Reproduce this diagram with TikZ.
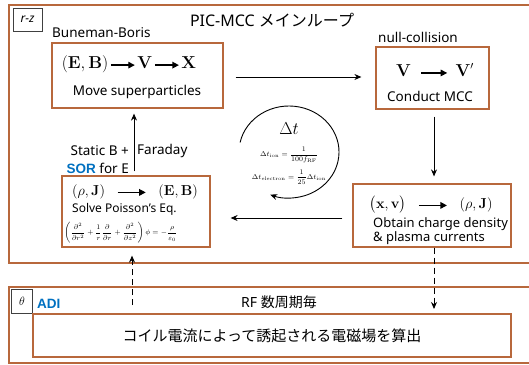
\documentclass[tikz,border=0pt]{standalone}
\usepackage{amsmath,bm}
\usepackage[no-math]{fontspec}
\setmainfont{Noto Sans}
\newfontfamily\jp{Noto Sans CJK JP}
\newfontfamily\bsans{Liberation Sans}
\usetikzlibrary{arrows.meta}
\definecolor{brn}{RGB}{184,104,60}
\definecolor{sorblue}{RGB}{0,112,192}
\newcommand{\harr}[1]{\mathrel{\tikz[baseline={(0pt,-3.2pt)}]\draw[line width=1.3pt,-{Triangle[length=6.5pt,width=6.5pt]}] (0pt,0pt)--(#1,0pt);}}
\begin{document}
\begin{tikzpicture}[x=1pt,y=-1pt,
  frame/.style={draw=brn, line width=1.2pt},
  procbox/.style={draw=brn, line width=1.2pt, fill=white, inner sep=0pt},
  tagbox/.style={draw=black!75, line width=0.6pt, fill=white, inner sep=0pt},
  flow/.style={-{Stealth[length=7pt,width=6pt]}, line width=0.9pt},
  dflow/.style={flow, dash pattern=on 6pt off 4pt},
  lbl/.style={inner sep=0pt, font=\fontsize{13.5}{15}\selectfont},
  txt/.style={inner sep=0pt, font=\fontsize{13.5}{15}\selectfont},
  bigm/.style={inner sep=0pt, font=\fontsize{15}{17}\selectfont}
]
\useasboundingbox (0,0) rectangle (529,364);
\clip (0,0) rectangle (529,364);
% frames
\draw[frame] (9,5) rectangle (540,263);
\draw[frame] (9,287) rectangle (540,363);
\node[tagbox, minimum width=29pt, minimum height=23pt, font=\fontsize{12}{14}\selectfont] (rz) at (27.5,19.5) {\textit{r-z}};
\node[tagbox, minimum width=21pt, minimum height=24pt, font=\fontsize{13}{14}\selectfont] (th) at (22,301.5) {$\theta$};
\node[inner sep=0pt, font=\fontsize{16}{18}\selectfont] (title) at (272,20) {PIC-MCC {\jp メインループ}};
% boxes
\node[procbox, minimum width=171pt, minimum height=65pt] (b1) at (137.5,75.5) {};
\node[procbox, minimum width=113pt, minimum height=62pt] (b2) at (432.5,78) {};
\node[procbox, minimum width=158pt, minimum height=63pt] (b3) at (432,215.5) {};
\node[procbox, minimum width=148pt, minimum height=71pt] (b4) at (136,211.5) {};
\node[procbox, minimum width=478pt, minimum height=43pt] (b5) at (272,335.5) {};
% box texts
\node[lbl, anchor=west] (bbl) at (52,33) {Buneman-Boris};
\node[bigm, font=\fontsize{16}{18}\selectfont] (b1m) at (129,64) {$(\mathbf{E},\mathbf{B})\!\harr{24pt}\!\mathbf{V}\!\harr{24pt}\!\mathbf{X}$};
\node[txt] (b1t) at (137,92) {Move superparticles};
\node[lbl] (ncl) at (418,37) {null-collision};
\node[bigm, font=\fontsize{16}{18}\selectfont] (b2m) at (435,70) {$\mathbf{V}\;\harr{26pt}\,\mathbf{V}'$};
\node[txt] (b2t) at (430,96) {Conduct MCC};
\node[bigm] (b3m) at (431,205) {$\bigl(\mathbf{x},\mathbf{v}\bigr)\;\;\harr{28pt}\;\;(\rho,\mathbf{J})$};
\node[txt, anchor=west, align=left, font=\fontsize{13}{14}\selectfont] (b3t) at (373,231) {Obtain charge density\\\& plasma currents};
\node[bigm] (b4m) at (135,192) {$(\rho,\mathbf{J})\;\;\harr{28pt}\;\;(\mathbf{E},\mathbf{B})$};
\node[txt, anchor=west, font=\fontsize{12}{13}\selectfont] (b4t) at (72,209) {Solve Poisson's Eq.};
\node[inner sep=0pt, anchor=west, font=\fontsize{7}{8}\selectfont] (b4f) at (64,233) {$\left(\dfrac{\partial^2}{\partial r^2}+\dfrac{1}{r}\dfrac{\partial}{\partial r}+\dfrac{\partial^2}{\partial z^2}\right)\phi=-\dfrac{\rho}{\varepsilon_0}$};
\node[txt, font=\fontsize{15}{17}\selectfont] (b5t) at (272,336) {\jp コイル電流によって誘起される電磁場を算出};
% labels
\node[lbl, anchor=east] (stb) at (129,151) {Static B +};
\node[lbl, anchor=west] (far) at (137,151) {Faraday};
\node[lbl, anchor=east] (sor) at (129,168) {\textcolor{sorblue}{\bsans\bfseries SOR} for E};
\node[lbl, anchor=west, text=sorblue, font=\fontsize{13.5}{15}\selectfont\bsans\bfseries] (adi) at (37,304) {ADI};
\node[lbl, font=\fontsize{14}{16}\selectfont] (rf) at (279,302) {RF {\jp 数周期毎}};
% dt circle
\coordinate (dtc) at (289,152);
\node[inner sep=0pt, font=\fontsize{18}{20}\selectfont] (dt) at (289,129) {$\Delta t$};
\node[inner sep=0pt, font=\fontsize{7.5}{8}\selectfont] (dti) at (289,155) {$\Delta t_{\mathrm{ion}}=\dfrac{1}{100f_{\mathrm{RF}}}$};
\node[inner sep=0pt, font=\fontsize{7.5}{8}\selectfont] (dte) at (289,177) {$\Delta t_{\mathrm{electron}}=\dfrac{1}{25}\Delta t_{\mathrm{ion}}$};
\draw[flow] (dtc) ++(192:50 and 46) arc[start angle=192, end angle=472, x radius=50, y radius=46];
% connectors
\draw[flow, shorten <=12pt, shorten >=14pt] (b1.east |- 0,77) -- (b2.west |- 0,77);
\draw[flow, shorten <=7pt, shorten >=7pt] (b2.south -| 434,0) -- (b3.north -| 434,0);
\draw[flow, shorten <=10pt, shorten >=20pt] (b3.west |- 0,218) -- (b4.east |- 0,218);
\draw[flow, shorten <=4pt, shorten >=5pt] (b4.north -| 134,0) -- (b1.south -| 134,0);
\coordinate (adisrc) at (132,305);
\draw[dflow, shorten >=8pt] (adisrc) -- (b4.south -| adisrc);
\coordinate (rfin) at (434,309);
\draw[dflow] (b3.south -| rfin) -- (rfin);
\end{tikzpicture}
\end{document}
